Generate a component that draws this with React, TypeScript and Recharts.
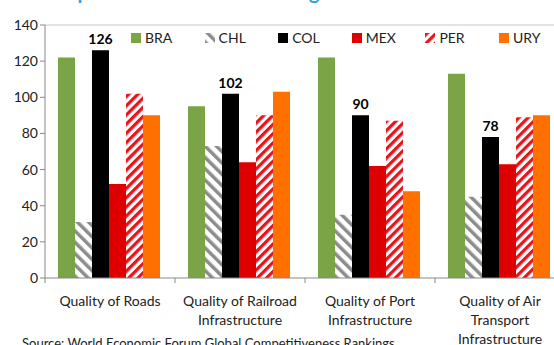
import React from 'react';
import { BarChart, Bar, XAxis, YAxis, Legend, LabelList, ReferenceLine } from 'recharts';

const categories = [
  'Quality of Roads',
  'Quality of Railroad Infrastructure',
  'Quality of Port Infrastructure',
  'Quality of Air Transport Infrastructure',
];
const bra = [122, 95, 122, 113];
const chl = [31, 73, 35, 45];
const col = [126, 102, 90, 78];
const mex = [52, 64, 62, 63];
const per = [102, 90, 87, 89];
const ury = [90, 103, 48, 90];
const yTicks = [0, 20, 40, 60, 80, 100, 120, 140];

const categoryLines: Record<string, string[]> = {
  'Quality of Roads': ['Quality of Roads'],
  'Quality of Railroad Infrastructure': ['Quality of Railroad', 'Infrastructure'],
  'Quality of Port Infrastructure': ['Quality of Port', 'Infrastructure'],
  'Quality of Air Transport Infrastructure': ['Quality of Air', 'Transport', 'Infrastructure'],
};

const series = [
  { key: 'BRA', fill: '#7BA447' },
  { key: 'CHL', fill: 'url(#chlStripes)' },
  { key: 'COL', fill: '#000000' },
  { key: 'MEX', fill: '#DE0000' },
  { key: 'PER', fill: 'url(#perStripes)' },
  { key: 'URY', fill: '#FF7000' },
];

const FONT = 'Lato, "Open Sans", sans-serif';
const BAND = 130;

const data = categories.map((name, i) => ({
  name,
  BRA: bra[i],
  CHL: chl[i],
  COL: col[i],
  MEX: mex[i],
  PER: per[i],
  URY: ury[i],
}));

const CategoryTick = (props: any) => {
  const { x, y, payload, index } = props;
  const lines = categoryLines[payload.value] || [payload.value];
  return (
    <g>
      <line x1={x - BAND / 2} x2={x - BAND / 2} y1={y - 8} y2={y - 3} stroke="#888" />
      {index === categories.length - 1 && (
        <line x1={x + BAND / 2} x2={x + BAND / 2} y1={y - 8} y2={y - 3} stroke="#888" />
      )}
      <text x={x} y={y + 20} textAnchor="middle" fontSize={14} fill="#222" fontFamily={FONT}>
        {lines.map((l, k) => (
          <tspan key={k} x={x} dy={k === 0 ? 0 : 19}>
            {l}
          </tspan>
        ))}
      </text>
    </g>
  );
};

const LegendContent = () => (
  <div style={{ display: 'flex', fontFamily: FONT, fontSize: 14, color: '#222' }}>
    {series.map((s) => (
      <div key={s.key} style={{ width: 73.6, display: 'flex', alignItems: 'center' }}>
        <svg width={10} height={10} style={{ marginRight: 4 }}>
          <rect width={10} height={10} fill={s.fill} />
        </svg>
        <span>{s.key}</span>
      </div>
    ))}
  </div>
);

export default function App() {
  return (
    <div style={{ position: 'fixed', top: 0, left: 0, width: 554, height: 345, overflow: 'hidden', background: '#fff' }}>
      <div
        style={{
          position: 'absolute',
          top: -21,
          left: 30,
          fontFamily: FONT,
          fontSize: 20,
          lineHeight: '24px',
          fontWeight: 'bold',
          color: '#3A9FD6',
          whiteSpace: 'nowrap',
        }}
      >
        Transport Infrastructure Rankings in LAC
      </div>
      <BarChart
        width={600}
        height={345}
        data={data}
        margin={{ top: 25, right: 35, left: 0, bottom: 0 }}
        barCategoryGap="10%"
        barGap={0}
      >
        <defs>
          <pattern id="chlStripes" patternUnits="userSpaceOnUse" width={8} height={8} patternTransform="rotate(-45)">
            <rect width={8} height={8} fill="#fff" />
            <rect width={3.5} height={8} fill="#8C8C8C" />
          </pattern>
          <pattern id="perStripes" patternUnits="userSpaceOnUse" width={6.5} height={6.5} patternTransform="rotate(45)">
            <rect width={6.5} height={6.5} fill="#fff" />
            <rect width={3.3} height={6.5} fill="#E8141B" />
          </pattern>
        </defs>
        <ReferenceLine y={140} stroke="#C8C8C8" />
        <XAxis
          dataKey="name"
          height={67}
          interval={0}
          tickLine={false}
          axisLine={{ stroke: '#888' }}
          tick={<CategoryTick />}
        />
        <YAxis
          width={45}
          domain={[0, 140]}
          ticks={yTicks}
          tickLine={{ stroke: '#888' }}
          tickSize={5}
          axisLine={{ stroke: '#888' }}
          tick={{ fontSize: 14, fill: '#222', fontFamily: FONT }}
        />
        <Legend
          layout="horizontal"
          verticalAlign="middle"
          content={<LegendContent />}
          wrapperStyle={{ position: 'absolute', top: 29, left: 131, width: 460 }}
        />
        {series.map((s) => (
          <Bar key={s.key} dataKey={s.key} fill={s.fill} isAnimationActive={false}>
            {s.key === 'COL' && (
              <LabelList
                dataKey="COL"
                position="top"
                offset={6}
                style={{ fontSize: 14, fontWeight: 'bold', fill: '#000', fontFamily: FONT }}
              />
            )}
          </Bar>
        ))}
      </BarChart>
      <div
        style={{
          position: 'absolute',
          top: 335,
          left: 22,
          fontFamily: FONT,
          fontSize: 13,
          lineHeight: '16px',
          color: '#222',
          whiteSpace: 'nowrap',
        }}
      >
        Source: World Economic Forum Global Competitiveness Rankings
      </div>
    </div>
  );
}
